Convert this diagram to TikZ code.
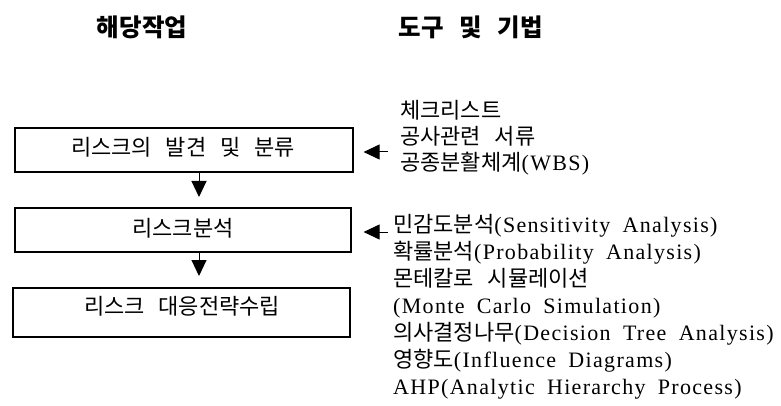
\documentclass[tikz,border=0pt]{standalone}
\usepackage{fontspec}
\setmainfont{Liberation Serif}[LetterSpace=6,WordSpace=1.8]
\newfontfamily\kr{Noto Sans CJK KR}[WordSpace=2.8]
\usetikzlibrary{arrows.meta,calc}
\newcommand{\K}[1]{{\kr #1}}
\begin{document}
\begin{tikzpicture}[x=1pt,y=-1pt,
  box/.style={draw,line width=1.2pt,inner sep=0pt},
  boxtext/.style={inner sep=0pt,font=\kr\fontsize{22}{26}\selectfont},
  head/.style={inner sep=0pt,font=\kr\bfseries\fontsize{24.5}{29}\selectfont},
  tools/.style={inner sep=0pt,anchor=west,align=left},
  arr/.style={line width=1pt,-{Triangle[length=16pt,width=15pt]}}]
\useasboundingbox (0,0) rectangle (781,406);
% headings
\node[head] (h1) at (142,27) {해당작업};
\node[head] (h2) at (471,27) {도구 및 기법};
% boxes
\node[box,minimum width=338pt,minimum height=44pt] (b1) at (184,150) {};
\node[boxtext] (b1t) at (183,147) {리스크의 발견 및 분류};
\node[box,minimum width=336pt,minimum height=44pt] (b2) at (183,230) {};
\node[boxtext] (b2t) at (183,228) {리스크분석};
\node[box,minimum width=337pt,minimum height=49pt] (b3) at (181.5,312.5) {};
\node[boxtext] (b3t) at (182,306) {리스크 대응전략수립};
% down arrows
\coordinate (t1) at (199,197);
\coordinate (t2) at (199,276);
\draw[arr] (b1.south -| t1) -- (t1);
\draw[arr] (b2.south -| t2) -- (t2);
% tool lists
\node[tools,font=\fontsize{22}{26}\selectfont] (g1) at (400,138)
  {\K{체크리스트}\\ \K{공사관련 서류}\\ \K{공종분활체계}(WBS)};
\node[tools,font=\fontsize{22}{27}\selectfont] (g2) at (393,307)
  {\K{민감도분석}(Sensitivity Analysis)\\
   \K{확률분석}(Probability Analysis)\\
   \K{몬테칼로 시뮬레이션}\\
   (Monte Carlo Simulation)\\
   \K{의사결정나무}(Decision Tree Analysis)\\
   \K{영향도}(Influence Diagrams)\\
   AHP(Analytic Hierarchy Process)};
% left arrows
\coordinate (s1) at (388,152);
\coordinate (s2) at (388,232);
\draw[arr] (s1) -- ($(b1.east |- s1)+(10,0)$);
\draw[arr] (s2) -- ($(b2.east |- s2)+(12,0)$);
\end{tikzpicture}
\end{document}
